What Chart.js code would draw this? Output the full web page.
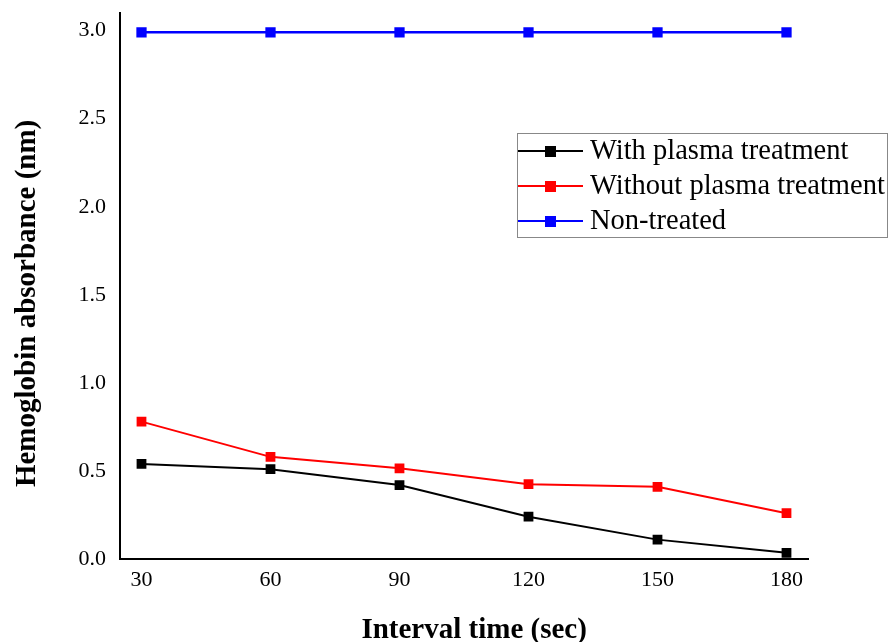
<!DOCTYPE html>
<html>
<head>
<meta charset="utf-8">
<script src="https://cdn.jsdelivr.net/npm/chart.js@4/dist/chart.umd.min.js"></script>
<style>
  html, body { margin: 0; padding: 0; background: #fff; }
  #wrap { width: 889px; height: 642px; position: relative; }
</style>
</head>
<body>
<div id="wrap"><canvas id="c"></canvas></div>
<script>
// Datos
const tiempos = [30, 60, 90, 120, 150, 180];
const conPlasma = [0.54, 0.51, 0.42, 0.24, 0.11, 0.035];
const sinPlasma = [0.78, 0.58, 0.515, 0.425, 0.41, 0.26];
const noTratado = [2.99, 2.99, 2.99, 2.99, 2.99, 2.99];
const ticksY = [0, 0.5, 1.0, 1.5, 2.0, 2.5, 3.0];
const etiquetas = ['With plasma treatment', 'Without plasma treatment', 'Non-treated'];

const FUENTE = '"Liberation Serif", "Times New Roman", serif';

const pares = arr => arr.map((v, i) => ({ x: tiempos[i], y: v }));

const serie = (label, data, color, ancho) => ({
  label, data: pares(data),
  borderColor: color, backgroundColor: color,
  borderWidth: ancho, pointStyle: 'rect', pointRadius: 5.5, pointHoverRadius: 5.5,
  tension: 0,
});

// Leyenda propia: línea + marcador cuadrado dentro de un recuadro gris
const leyenda = {
  id: 'leyenda',
  afterDraw(chart) {
    const ctx = chart.ctx;
    const x0 = 517, y0 = 133, w = 370, h = 104;
    ctx.save();
    ctx.strokeStyle = '#888';
    ctx.lineWidth = 1;
    ctx.strokeRect(x0 + 0.5, y0 + 0.5, w, h);
    ctx.font = '28.5px ' + FUENTE;
    ctx.textBaseline = 'middle';
    chart.data.datasets.forEach((ds, i) => {
      const y = y0 + 18 + i * 35;
      ctx.strokeStyle = ds.borderColor;
      ctx.lineWidth = 2;
      ctx.beginPath(); ctx.moveTo(x0 + 1, y); ctx.lineTo(x0 + 66, y); ctx.stroke();
      ctx.fillStyle = ds.borderColor;
      ctx.fillRect(x0 + 28, y - 5, 11, 11);
      ctx.fillStyle = '#000';
      ctx.fillText(ds.label, x0 + 73, y + 1);
    });
    ctx.restore();
  }
};

new Chart(document.getElementById('c'), {
  type: 'line',
  data: {
    datasets: [
      serie(etiquetas[0], conPlasma, '#000000', 2),
      serie(etiquetas[1], sinPlasma, '#ff0000', 2),
      serie(etiquetas[2], noTratado, '#0000ff', 2.5),
    ],
  },
  options: {
    responsive: true, maintainAspectRatio: false, animation: false,
    layout: { padding: { top: 13, right: 81, left: 0, bottom: 0 } },
    plugins: { legend: { display: false }, tooltip: { enabled: false } },
    scales: {
      x: {
        type: 'linear', min: 25, max: 185,
        afterBuildTicks: s => { s.ticks = tiempos.map(v => ({ value: v })); },
        afterFit: s => { s.height = 83; s.paddingLeft = 0; s.paddingRight = 0; },
        grid: { display: false, drawTicks: false },
        border: { color: '#000', width: 2 },
        ticks: { color: '#000', padding: 8, font: { family: FUENTE, size: 22 } },
        // espacios al inicio: el título del original está algo corrido a la derecha
        title: { display: true, text: '\u2002\u2009Interval time (sec)', color: '#000', padding: { top: 0, bottom: 0 },
                 font: { family: FUENTE, size: 29, weight: 'bold', lineHeight: 0.8 } },
      },
      y: {
        min: 0, max: 3.1,
        afterBuildTicks: s => { s.ticks = ticksY.map(v => ({ value: v })); },
        afterFit: s => { s.width = 120; s.paddingTop = 0; s.paddingBottom = 0; },
        grid: { display: false, drawTicks: false },
        border: { color: '#000', width: 2 },
        ticks: { color: '#000', padding: 14, font: { family: FUENTE, size: 22 },
                 callback: v => v.toFixed(1) },
        title: { display: true, text: 'Hemoglobin absorbance (nm)\u2003\u2009', color: '#000', padding: { top: 10, bottom: 0 },
                 font: { family: FUENTE, size: 29, weight: 'bold' } },
      },
    },
  },
  plugins: [leyenda],
});
</script>
</body>
</html>
